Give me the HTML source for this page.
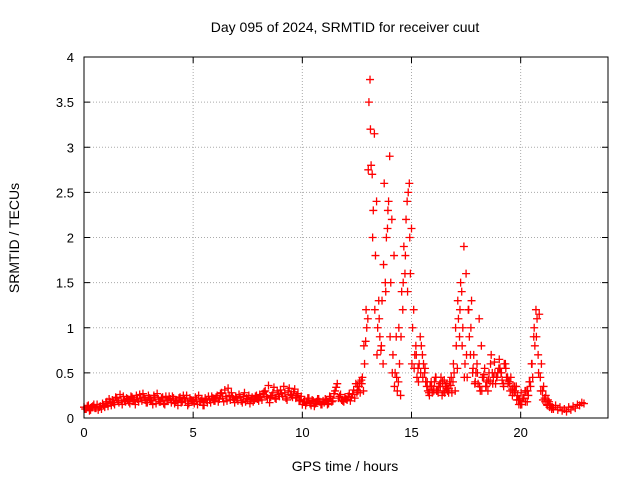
<!DOCTYPE html>
<html><head><meta charset="utf-8"><style>
body{margin:0;background:#fff}
svg{display:block;font-family:"Liberation Sans",sans-serif}
</style></head><body>
<svg id="chart" width="640" height="480">
<rect width="640" height="480" fill="#fff"/>
<text x="345" y="32" text-anchor="middle" font-size="14">Day 095 of 2024, SRMTID for receiver cuut</text>
<text x="345" y="471" text-anchor="middle" font-size="14">GPS time / hours</text>
<text x="19" y="238" text-anchor="middle" font-size="14" transform="rotate(-90 19 238)">SRMTID / TECUs</text>
<g id="grid"></g><g id="ticks"></g><g id="marks"></g>
<rect x="84" y="57" width="524" height="361" fill="none" stroke="#000"/>
</svg>
<script>
const xTicks=[0,5,10,15,20];
const yTicks=[0,0.5,1,1.5,2,2.5,3,3.5,4];
const yTickLabels=["0","0.5","1","1.5","2","2.5","3","3.5","4"];
const mainStart=0.0, mainStep=0.1;
const mainValues=[
.12,.10,.14,.09,.13,.11,.15,.12,.10,.14,
.16,.13,.18,.20,.15,.22,.17,.19,.24,.18,
.21,.16,.23,.19,.25,.18,.22,.27,.20,.17,
.22,.19,.25,.16,.21,.18,.23,.15,.20,.24,
.17,.22,.19,.14,.23,.18,.21,.25,.16,.20,
.19,.23,.15,.18,.21,.14,.20,.24,.17,.22,
.19,.25,.21,.28,.18,.24,.33,.20,.23,.17,
.22,.26,.19,.24,.18,.21,.16,.23,.20,.25,
.19,.23,.27,.30,.22,.17,.25,.34,.21,.26,
.31,.24,.28,.20,.33,.25,.29,.22,.27,.19,
.15,.20,.17,.22,.14,.19,.16,.21,.18,.15,
.17,.20,.16,.22,.19,.30,.38,.24,.20,.18,
.21,.24,.19,.26,.22,.28,.35,.42,.30,.85,
1.1,3.75,2.7,3.15,2.4,1.3,0.75,0.6,1.5,2.1,
2.9,2.2,1.8,0.9,0.4,0.25,1.2,1.6,2.4,2.6,
2.1,1.2,0.8,0.55,0.9,0.7,0.5,0.35,0.28,0.4,
0.32,0.45,0.3,0.38,0.25,0.42,0.33,0.28,0.36,0.4,
0.3,0.55,0.9,1.4,1.9,1.6,1.2,0.7,0.5,0.38,
0.6,1.1,0.8,0.45,0.35,0.3,0.4,0.5,0.62,0.45,
0.55,0.5,0.38,0.6,0.45,0.4,0.32,0.28,0.35,0.2,
0.15,0.22,0.3,0.18,0.4,0.6,0.9,1.2,0.7,0.45,
0.3,0.22,0.15,0.18,0.12,0.1,0.14,0.09,0.12,0.08,
0.1,0.07,0.12,0.09,0.13,0.11,0.15,0.14,0.17,0.16];
const quietStart=0.05, quietStep=0.1;
const quietValues=[
.10,.13,.08,.12,.15,.11,.09,.13,.16,.12,
.18,.21,.14,.17,.23,.19,.26,.15,.20,.22,
.18,.24,.20,.15,.21,.26,.19,.23,.17,.25,
.20,.15,.23,.27,.18,.22,.16,.24,.19,.21,
.24,.16,.20,.22,.17,.25,.19,.14,.22,.18,
.16,.21,.25,.19,.14,.22,.17,.20,.24,.19,
.23,.18,.27,.22,.31,.19,.25,.28,.21,.24,
.19,.23,.17,.28,.22,.25,.20,.18,.24,.21,
.26,.20,.29,.24,.36,.23,.28,.22,.30,.24,
.27,.35,.22,.30,.26,.23,.32,.25,.20,.24,
.18,.14,.22,.16,.20,.13,.18,.21,.15,.19,
.21,.15,.24,.18,.27,.34,.22,.26,.19,.23,
.20,.27,.23,.31,.38];
const extraStart=12.55, extraStep=0.1;
const extraValues=[
.3,.28,.45,.6,1.0,3.5,2.8,2.3,1.8,1.0,
.9,1.3,2.6,2.0,2.4,1.5,.7,.5,.3,.6,
1.4,1.9,2.2,2.5,1.6,1.0,.7,.45,.6,.8,
.6,.4,.3,.35,.28,.4,.3,.35,.45,.3,
.35,.3,.4,.28,.5,.8,1.1,1.5,1.0,.6,
.45,.9,1.3,.7,.5,.38,.3,.45,.55,.4,
.5,.7,.45,.38,.5,.55,.42,.6,.45,.4,
.45,.35,.3,.25,.2,.15,.22,.3,.25,.35,
.45,.8,1.1,1.15,.6,.35,.25,.2,.15,.12];
const activeStart=12.52, activeStep=0.1;
const activeValues=[
.35,.4,.38,.8,1.2,2.75,3.2,2.0,1.2,.7,
1.1,.8,1.7,1.4,2.3,.9,.5,.35,.45,1.0,
.9,1.5,1.8,1.4,2.0,.6,.55,.7,.4,.5,
.45,.55,.4,.25,.35,.3,.45,.28,.35,.4,
.28,.38,.33,.45,.6,1.0,1.3,1.2,.8,.45,
.7,1.2,1.0,.55,.4,.5,.35,.3,.48,.35,
.42,.6,.38,.5,.45,.65,.5,.35,.55,.38,
.3,.25,.35,.2,.15,.28,.22,.18,.3,.4,
.6,1.0,.9,.5,.3,.2,.18,.14,.12,.1];
const X0=84,X1=608,Y0=418,Y1=57,XMAX=24,YMAX=4;
const xs=v=>X0+(X1-X0)*v/XMAX;
const ys=v=>Y0-(Y0-Y1)*v/YMAX;
const NS="http://www.w3.org/2000/svg";
const grid=document.getElementById('grid'),ticks=document.getElementById('ticks'),marks=document.getElementById('marks');
function mk(tag,attrs,parent){const e=document.createElementNS(NS,tag);for(const k in attrs)e.setAttribute(k,attrs[k]);parent.appendChild(e);return e;}
xTicks.forEach(t=>{
 const x=xs(t);
 if(t>0){const g=mk('line',{x1:x,x2:x,y1:Y0,y2:Y1,stroke:'#aaa','stroke-dasharray':'1,2'},grid);
 
 }
 mk('line',{x1:x,x2:x,y1:Y0,y2:Y0-6,stroke:'#000'},ticks);
 mk('line',{x1:x,x2:x,y1:Y1,y2:Y1+6,stroke:'#000'},ticks);
 const l=mk('text',{x:x,y:Y0+19,'text-anchor':'middle','font-size':13},ticks);
 l.textContent=t;
 
 
});
yTicks.forEach((t,i)=>{
 const y=ys(t);
 if(t>0&&t<4){const g=mk('line',{x1:X0,x2:X1,y1:y,y2:y,stroke:'#aaa','stroke-dasharray':'1,2'},grid);
 
 }
 mk('line',{x1:X0,x2:X0+6,y1:y,y2:y,stroke:'#000'},ticks);
 mk('line',{x1:X1,x2:X1-6,y1:y,y2:y,stroke:'#000'},ticks);
 const l=mk('text',{x:X0-10,y:y+5,'text-anchor':'end','font-size':13},ticks);
 l.textContent=yTickLabels[i];
 
 
});
function plus(t,v){
 const x=xs(t),y=ys(v);
 const p=mk('path',{d:`M${x-4},${y}h8M${x},${y-4}v8`,stroke:'#f00','stroke-width':1.3,fill:'none'},marks);
 
 
}
mainValues.forEach((v,i)=>plus(mainStart+i*mainStep,v));
quietValues.forEach((v,i)=>plus(quietStart+i*quietStep,v));
extraValues.forEach((v,i)=>plus(extraStart+i*extraStep,v));
activeValues.forEach((v,i)=>plus(activeStart+i*activeStep,v));
</script>
</body></html>
